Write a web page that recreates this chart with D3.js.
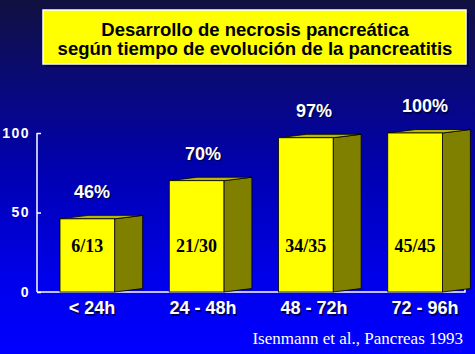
<!DOCTYPE html>
<html><head><meta charset="utf-8">
<script src="https://cdn.jsdelivr.net/npm/d3@7"></script>
<style>html,body{margin:0;padding:0;background:#0000ff;overflow:hidden}</style>
</head><body>
<svg id="c" width="475" height="354"></svg>
<script>
const categories = ["< 24h", "24 - 48h", "48 - 72h", "72 - 96h"];
const percentValues = [46, 70, 97, 100];
const percentLabels = ["46%", "70%", "97%", "100%"];
const fractionLabels = ["6/13", "21/30", "34/35", "45/45"];
const yTicks = [0, 50, 100];
const titleLines = ["Desarrollo de necrosis pancreática", "según tiempo de evolución de la pancreatitis"];
const citation = "Isenmann et al., Pancreas 1993";

const svg = d3.select("#c");
const defs = svg.append("defs");
const g = defs.append("linearGradient").attr("id","bg").attr("x1",0).attr("y1",0).attr("x2",0).attr("y2",1);
[[0,"#10103f"],[0.2,"#0a0a70"],[0.5,"#0000b4"],[0.8,"#0000ee"],[1,"#0000ff"]].forEach(s=>g.append("stop").attr("offset",s[0]).attr("stop-color",s[1]));
svg.append("rect").attr("width",475).attr("height",354).attr("fill","url(#bg)");

// title box
svg.append("rect").attr("x",46).attr("y",13).attr("width",423).attr("height",54).attr("fill","#000040").attr("opacity",0.7);
svg.append("rect").attr("x",43).attr("y",10).attr("width",423).attr("height",54).attr("fill","#ffff00").attr("stroke","#ffffff").attr("stroke-width",1.5);
svg.selectAll("text.title").data(titleLines).join("text").attr("class","title")
  .attr("x",255).attr("y",(d,i)=>36+i*19).attr("text-anchor","middle")
  .attr("font-family","Liberation Sans, Arial, sans-serif").attr("font-weight","bold").attr("font-size",18.5)
  .attr("fill","#000").text(d=>d);

const x = d3.scaleBand().domain(categories).range([32.7,469.7]).paddingInner(0.5).paddingOuter(0.25);
const lx = d3.scalePoint().domain(categories).range([92,425]);
const y = d3.scaleLinear().domain([0,100]).range([292,133]);
const dx = 28, dy = 3.5;
const bw = x.bandwidth();

// axes
const yAxis = d3.axisLeft(y).tickValues(yTicks).tickSize(-4).tickPadding(7);
const ag = svg.append("g").attr("transform","translate(37,0)").call(yAxis);
ag.select(".domain").attr("stroke","#fff").attr("stroke-width",1.5).attr("d","M0,"+y(100)+"V"+y(0));
ag.selectAll(".tick line").attr("stroke","#fff").attr("stroke-width",1.5);
ag.selectAll(".tick text").attr("fill","#fff").attr("font-family","Liberation Sans, Arial, sans-serif")
  .attr("font-weight","bold").attr("font-size",14).attr("letter-spacing",1.5);
svg.append("path").attr("d",`M37,${y(0)}H465V${y(0)-4}`).attr("fill","none").attr("stroke","#fff").attr("stroke-width",1.5);

const bars = svg.append("g").selectAll("g").data(categories).join("g");
bars.each(function(c,i){
  const gg = d3.select(this);
  const x0 = x(c), x1 = x0+bw, yt = y(percentValues[i]), yb = y(0);
  gg.append("path").attr("d",`M${x1},${yb}L${x1+dx},${yb-dy}L${x1+dx},${yt-dy}L${x1},${yt}Z`)
    .attr("fill","#808000").attr("stroke","#000").attr("stroke-width",0.8);
  gg.append("path").attr("d",`M${x0},${yt}L${x0+dx},${yt-dy}L${x1+dx},${yt-dy}L${x1},${yt}Z`)
    .attr("fill","#b8b800").attr("stroke","#000").attr("stroke-width",0.8);
  gg.append("rect").attr("x",x0).attr("y",yt).attr("width",bw).attr("height",yb-yt)
    .attr("fill","#ffff00").attr("stroke","#000").attr("stroke-width",0.8);
  gg.append("text").attr("x",x0+bw/2).attr("y",252).attr("text-anchor","middle")
    .attr("font-family","Liberation Serif, Times New Roman, serif").attr("font-weight","bold").attr("font-size",18)
    .attr("fill","#000").text(fractionLabels[i]);
});

function shadowText(sel, txt, xx, yy, size){
  sel.append("text").attr("x",xx+1.5).attr("y",yy+1.5).attr("text-anchor","middle")
    .attr("font-family","Liberation Sans, Arial, sans-serif").attr("font-weight","bold").attr("font-size",size)
    .attr("fill","#000030").attr("opacity",0.8).text(txt);
  sel.append("text").attr("x",xx).attr("y",yy).attr("text-anchor","middle")
    .attr("font-family","Liberation Sans, Arial, sans-serif").attr("font-weight","bold").attr("font-size",size)
    .attr("fill","#fff").text(txt);
}
const lab = svg.append("g");
categories.forEach((c,i)=>{
  shadowText(lab, percentLabels[i], lx(c), y(percentValues[i]) - 21, 18);
  shadowText(lab, c, lx(c), 314, 18);
});

svg.append("text").attr("x",463).attr("y",344).attr("text-anchor","end")
  .attr("font-family","Liberation Serif, Times New Roman, serif").attr("font-size",17)
  .attr("fill","#fff").text(citation);
</script>
</body></html>
